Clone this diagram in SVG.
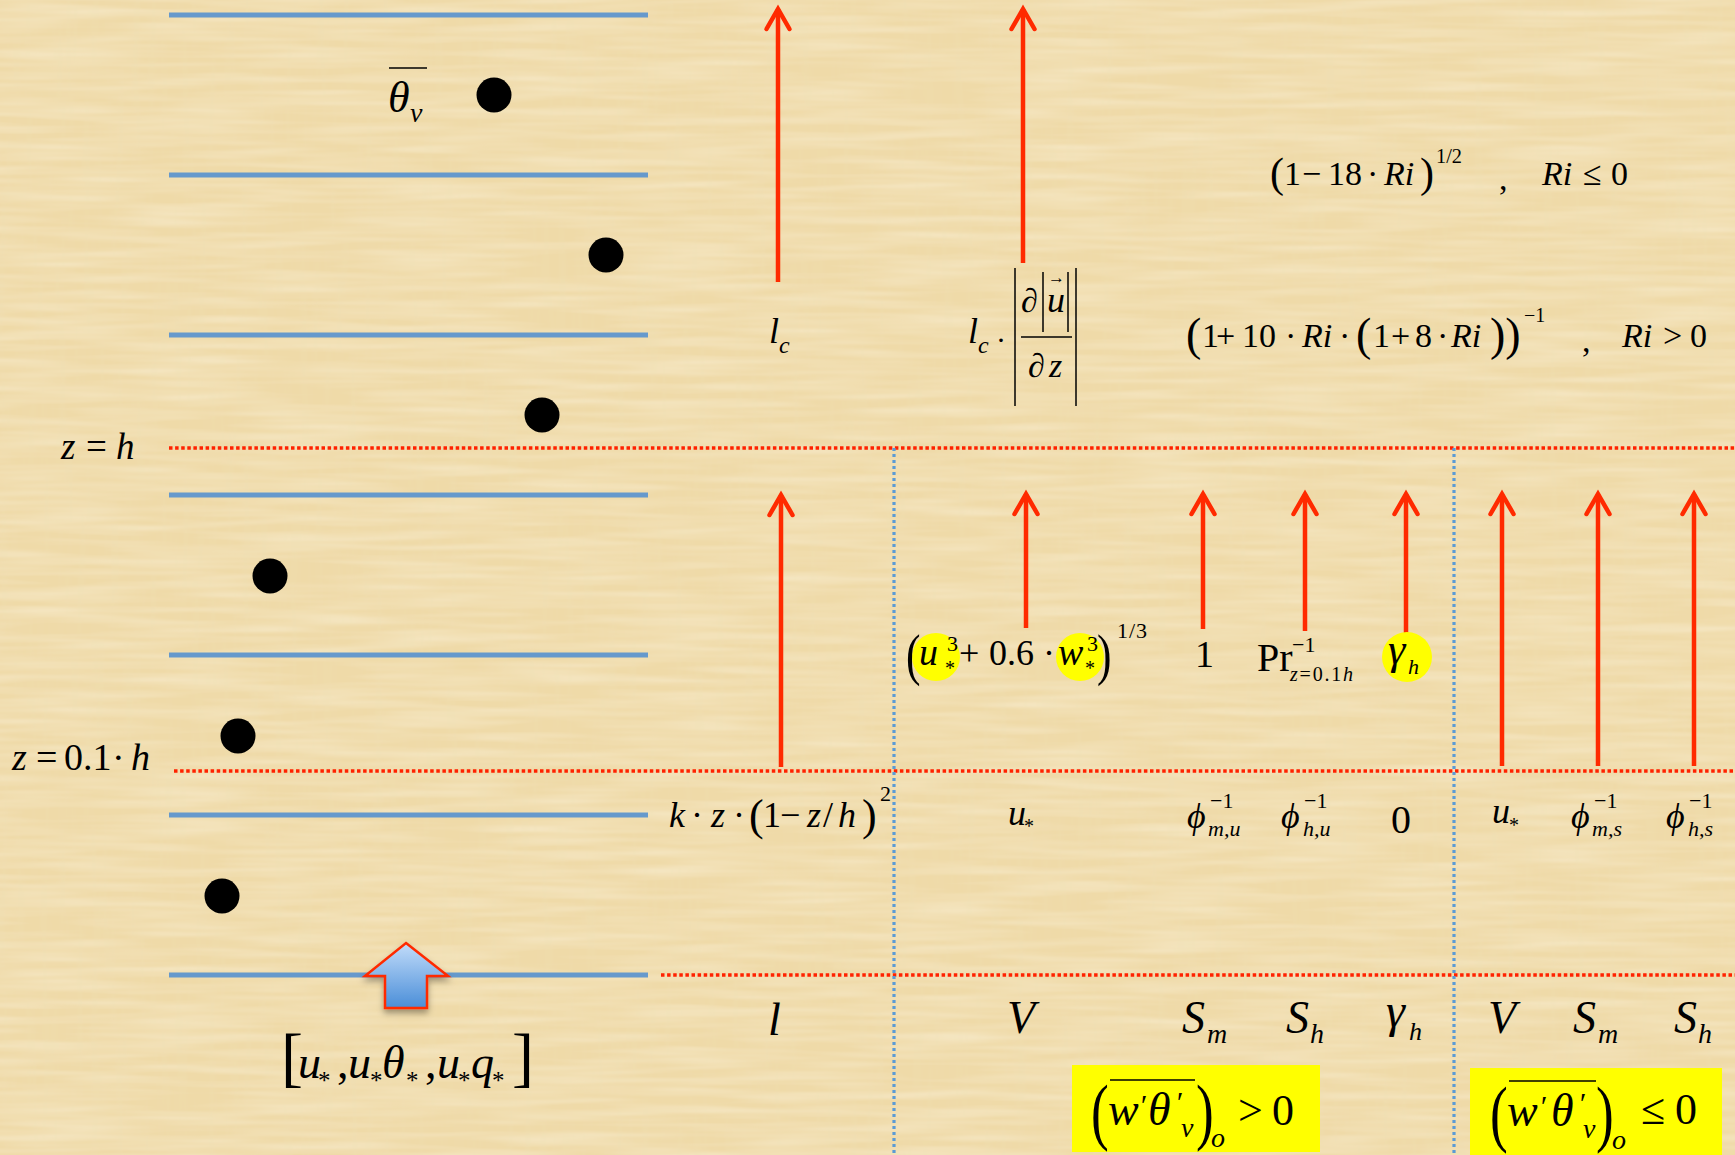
<svg xmlns="http://www.w3.org/2000/svg" width="1735" height="1155" viewBox="0 0 1735 1155">
<defs>
<style>
.t{font-family:"Liberation Serif","Times New Roman",serif;fill:#000}
.i{font-style:italic}
.layer{stroke:#6699cc;stroke-width:5}
.rdot{stroke:#ff2200;stroke-width:3.5;stroke-dasharray:3.5 2.6;fill:none}
.bdot{stroke:#5b9bd5;stroke-width:3.2;stroke-dasharray:3 3;fill:none}
.arr{stroke:#ff2a00;stroke-width:4.5;fill:none;marker-end:url(#head)}
.dot{fill:#000}
.hl{fill:#ffff00}
.ln{stroke:#000;stroke-width:1.5}
</style>
<marker id="head" markerUnits="userSpaceOnUse" markerWidth="40" markerHeight="40" refX="0" refY="0" viewBox="-30 -20 40 40" orient="auto" overflow="visible">
<path d="M-20,-11.5 L0,0 L-20,11.5" fill="none" stroke="#ff2a00" stroke-width="4.5" stroke-linecap="round" stroke-linejoin="miter"/>
</marker>
<linearGradient id="blk" x1="0" y1="0" x2="0" y2="1">
<stop offset="0" stop-color="#c2dcfa"/>
<stop offset="1" stop-color="#4a8ed8"/>
</linearGradient>
<filter id="streakH" x="0" y="0" width="100%" height="100%">
<feTurbulence type="fractalNoise" baseFrequency="0.008 0.12" numOctaves="2" seed="3"/>
<feColorMatrix type="matrix" values="0 0 0 0 1  0 0 0 0 0.96  0 0 0 0 0.86  0.6 0 0 0 -0.2"/>
</filter>
<filter id="streakV" x="0" y="0" width="100%" height="100%">
<feTurbulence type="fractalNoise" baseFrequency="0.12 0.008" numOctaves="2" seed="7"/>
<feColorMatrix type="matrix" values="0 0 0 0 0.85  0 0 0 0 0.74  0 0 0 0 0.46  0.5 0 0 0 -0.2"/>
</filter>
<filter id="sh" x="-30%" y="-30%" width="160%" height="160%">
<feDropShadow dx="0" dy="4" stdDeviation="3" flood-color="#000" flood-opacity="0.35"/>
</filter>
</defs>

<g id="background">
<rect width="1735" height="1155" fill="#efdaa8"/>
<rect width="1735" height="1155" filter="url(#streakH)"/>
<rect width="1735" height="1155" filter="url(#streakV)"/>
</g>

<g id="layers">
<line class="layer" x1="169" y1="15" x2="648" y2="15"/>
<line class="layer" x1="169" y1="175" x2="648" y2="175"/>
<line class="layer" x1="169" y1="335" x2="648" y2="335"/>
<line class="layer" x1="169" y1="495" x2="648" y2="495"/>
<line class="layer" x1="169" y1="655" x2="648" y2="655"/>
<line class="layer" x1="169" y1="815" x2="648" y2="815"/>
<line class="layer" x1="169" y1="975" x2="648" y2="975"/>
</g>

<g id="profile-points">
<circle class="dot" cx="494" cy="95" r="17.5"/>
<circle class="dot" cx="606" cy="255" r="17.5"/>
<circle class="dot" cx="542" cy="415" r="17.5"/>
<circle class="dot" cx="270" cy="576" r="17.5"/>
<circle class="dot" cx="238" cy="736" r="17.5"/>
<circle class="dot" cx="222" cy="896" r="17.5"/>
</g>

<g id="grid-lines">
<line class="rdot" x1="169" y1="448" x2="1735" y2="448"/>
<line class="rdot" x1="174" y1="771" x2="1735" y2="771"/>
<line class="rdot" x1="661" y1="975" x2="1735" y2="975"/>
<line class="bdot" x1="894" y1="448" x2="894" y2="1155"/>
<line class="bdot" x1="1454" y1="448" x2="1454" y2="1155"/>
</g>

<g id="label-theta">
<line class="ln" x1="389" y1="68" x2="427" y2="68" stroke-width="2"/>
<text class="t i" x="388" y="112" font-size="44">θ</text>
<text class="t i" x="410" y="122" font-size="28">v</text>
</g>

<g id="label-heights">
<text class="t" x="61" y="459" font-size="37"><tspan class="i">z</tspan><tspan x="86">=</tspan><tspan class="i" x="116">h</tspan></text>
<text class="t" x="12" y="770" font-size="38"><tspan class="i">z</tspan><tspan x="36">=</tspan><tspan x="64">0.1</tspan><tspan x="112">·</tspan><tspan class="i" x="131">h</tspan></text>
</g>

<g id="surface-flux">
<path d="M406,943 L448,976 L427,976 L427,1008 L385,1008 L385,976 L365,976 Z" fill="url(#blk)" stroke="#ff2a00" stroke-width="2.5" filter="url(#sh)"/>
<text class="t" font-size="46" y="1078">
<tspan x="281" font-size="66" y="1079">[</tspan>
<tspan class="i" x="298" y="1078">u</tspan>
<tspan x="318" y="1089" font-size="25">*</tspan>
<tspan x="337" y="1078">,</tspan>
<tspan class="i" x="348" y="1078">u</tspan>
<tspan x="370" y="1089" font-size="25">*</tspan>
<tspan class="i" x="382" y="1078">θ</tspan>
<tspan x="406" y="1089" font-size="25">*</tspan>
<tspan x="425" y="1078">,</tspan>
<tspan class="i" x="437" y="1078">u</tspan>
<tspan x="458" y="1089" font-size="25">*</tspan>
<tspan class="i" x="471" y="1078">q</tspan>
<tspan x="492" y="1089" font-size="25">*</tspan>
<tspan x="512" font-size="66" y="1079">]</tspan>
</text>
</g>

<g id="connectors">
<line class="arr" x1="778" y1="282" x2="778" y2="9"/>
<line class="arr" x1="1023" y1="263" x2="1023" y2="9"/>
<line class="arr" x1="781" y1="767" x2="781" y2="495"/>
<line class="arr" x1="1026" y1="628" x2="1026" y2="494"/>
<line class="arr" x1="1203" y1="629" x2="1203" y2="494"/>
<line class="arr" x1="1305" y1="631" x2="1305" y2="494"/>
<line class="arr" x1="1406" y1="633" x2="1406" y2="494"/>
<line class="arr" x1="1502" y1="766" x2="1502" y2="494"/>
<line class="arr" x1="1598" y1="766" x2="1598" y2="494"/>
<line class="arr" x1="1694" y1="766" x2="1694" y2="494"/>
</g>

<g id="node-lc">
<text class="t i" x="769" y="343" font-size="36">l</text>
<text class="t i" x="779" y="353" font-size="24">c</text>
</g>

<g id="node-lc-shear">
<text class="t i" x="968" y="343" font-size="36">l</text>
<text class="t i" x="978" y="353" font-size="24">c</text>
<text class="t" x="996" y="350" font-size="30">·</text>
<line class="ln" x1="1015" y1="268" x2="1015" y2="406"/>
<line class="ln" x1="1076" y1="268" x2="1076" y2="406"/>
<line class="ln" x1="1043" y1="272" x2="1043" y2="332" stroke-width="1.3"/>
<line class="ln" x1="1068" y1="272" x2="1068" y2="332" stroke-width="1.3"/>
<line class="ln" x1="1021" y1="337" x2="1072" y2="337"/>
<text class="t i" x="1021" y="312" font-size="34">∂</text>
<text class="t i" x="1047" y="312" font-size="36">u</text>
<text class="t" x="1048" y="283" font-size="17">→</text>
<text class="t i" x="1028" y="377" font-size="34">∂<tspan x="1049">z</tspan></text>
</g>

<g id="node-stability">
<text class="t" y="185" font-size="34">
<tspan x="1270" font-size="42" y="187">(</tspan><tspan x="1284" y="185">1</tspan><tspan x="1302">−</tspan><tspan x="1328">18</tspan><tspan x="1367">·</tspan><tspan class="i" x="1384">Ri</tspan><tspan x="1420" font-size="42" y="187">)</tspan>
</text>
<text class="t" x="1436" y="163" font-size="20" textLength="26" lengthAdjust="spacingAndGlyphs">1/2</text>
<text class="t" x="1499" y="190" font-size="34">,</text>
<text class="t" y="185" font-size="34"><tspan class="i" x="1542">Ri</tspan><tspan x="1583">≤</tspan><tspan x="1611">0</tspan></text>
<text class="t" y="347" font-size="34">
<tspan x="1186" font-size="46" y="350">(</tspan><tspan x="1202" y="347">1</tspan><tspan x="1216">+</tspan><tspan x="1242">10</tspan><tspan x="1285">·</tspan><tspan class="i" x="1302">Ri</tspan><tspan x="1339">·</tspan><tspan x="1356" font-size="46" y="350">(</tspan><tspan x="1373" y="347">1</tspan><tspan x="1391">+</tspan><tspan x="1415">8</tspan><tspan x="1437">·</tspan><tspan class="i" x="1451">Ri</tspan><tspan x="1490" font-size="46" y="350">))</tspan>
</text>
<text class="t" x="1524" y="322" font-size="20">−1</text>
<text class="t" x="1582" y="352" font-size="34">,</text>
<text class="t" y="347" font-size="34"><tspan class="i" x="1622">Ri</tspan><tspan x="1663">&gt;</tspan><tspan x="1690">0</tspan></text>
</g>

<g id="node-l-surface">
<text class="t" y="827" font-size="36"><tspan class="i" x="669">k</tspan><tspan x="691">·</tspan><tspan class="i" x="711">z</tspan><tspan x="733">·</tspan><tspan x="749" font-size="44" y="830">(</tspan><tspan x="763" y="827">1</tspan><tspan x="780">−</tspan><tspan class="i" x="807">z</tspan><tspan x="823">/</tspan><tspan class="i" x="838">h</tspan><tspan x="862" font-size="44" y="830">)</tspan></text>
<text class="t" x="880" y="801" font-size="22">2</text>
</g>

<g id="node-V-mixed">
<circle class="hl" cx="936" cy="657" r="24"/>
<circle class="hl" cx="1080" cy="657" r="24"/>
<text class="t" transform="translate(906,674) scale(0.75,1)" font-size="58">(</text>
<text class="t i" x="919" y="665" font-size="38">u</text>
<text class="t" x="947" y="651" font-size="22">3</text>
<text class="t" x="945" y="675" font-size="20">*</text>
<text class="t" x="959" y="665" font-size="36">+</text>
<text class="t" x="989" y="665" font-size="36">0.6</text>
<text class="t" x="1043" y="665" font-size="36">·</text>
<text class="t i" x="1058" y="665" font-size="38">w</text>
<text class="t" x="1087" y="651" font-size="22">3</text>
<text class="t" x="1085" y="675" font-size="20">*</text>
<text class="t" transform="translate(1097,674) scale(0.75,1)" font-size="58">)</text>
<text class="t" x="1117" y="638" font-size="22" textLength="30">1/3</text>
</g>

<g id="node-Sm-mixed"><text class="t" x="1195" y="667" font-size="38">1</text></g>

<g id="node-Sh-mixed">
<text class="t" x="1257" y="671" font-size="40">Pr</text>
<text class="t" x="1292" y="652" font-size="22">−1</text>
<text class="t" x="1290" y="681" font-size="20" textLength="63"><tspan class="i">z</tspan>=0.1<tspan class="i">h</tspan></text>
</g>

<g id="node-gamma-mixed">
<circle class="hl" cx="1407" cy="657" r="25"/>
<text class="t i" x="1388" y="664" font-size="44">γ</text>
<text class="t i" x="1408" y="674" font-size="22">h</text>
</g>

<g id="node-surface-values">
<text class="t i" x="1008" y="825" font-size="36">u</text>
<text class="t" x="1024" y="833" font-size="20">*</text>
<text class="t i" x="1187" y="828" font-size="36">ϕ</text>
<text class="t" x="1210" y="808" font-size="22">−1</text>
<text class="t i" x="1208" y="836" font-size="22">m,u</text>
<text class="t i" x="1281" y="828" font-size="36">ϕ</text>
<text class="t" x="1304" y="808" font-size="22">−1</text>
<text class="t i" x="1303" y="836" font-size="22">h,u</text>
<text class="t" x="1391" y="833" font-size="40">0</text>
<text class="t i" x="1492" y="823" font-size="36">u</text>
<text class="t" x="1509" y="832" font-size="20">*</text>
<text class="t i" x="1571" y="828" font-size="36">ϕ</text>
<text class="t" x="1594" y="808" font-size="22">−1</text>
<text class="t i" x="1592" y="836" font-size="22">m,s</text>
<text class="t i" x="1666" y="828" font-size="36">ϕ</text>
<text class="t" x="1689" y="808" font-size="22">−1</text>
<text class="t i" x="1688" y="836" font-size="22">h,s</text>
</g>

<g id="node-variable-names">
<text class="t i" x="768" y="1035" font-size="46">l</text>
<text class="t i" x="1007" y="1033" font-size="46">V</text>
<text class="t i" x="1182" y="1033" font-size="46">S</text>
<text class="t i" x="1207" y="1043" font-size="28">m</text>
<text class="t i" x="1286" y="1033" font-size="46">S</text>
<text class="t i" x="1310" y="1043" font-size="28">h</text>
<text class="t i" x="1386" y="1027" font-size="48">γ</text>
<text class="t i" x="1409" y="1040" font-size="26">h</text>
<text class="t i" x="1488" y="1033" font-size="46">V</text>
<text class="t i" x="1573" y="1033" font-size="46">S</text>
<text class="t i" x="1598" y="1043" font-size="28">m</text>
<text class="t i" x="1674" y="1033" font-size="46">S</text>
<text class="t i" x="1698" y="1043" font-size="28">h</text>
</g>

<g id="node-unstable">
<rect class="hl" x="1072" y="1065" width="248" height="87"/>
<text class="t" transform="translate(1091,1136) scale(0.72,1)" font-size="74">(</text>
<line class="ln" x1="1110" y1="1080" x2="1195" y2="1080" stroke-width="2"/>
<text class="t i" x="1108" y="1125" font-size="46">w</text>
<text class="t i" x="1139" y="1115" font-size="30">′</text>
<text class="t i" x="1148" y="1125" font-size="46">θ</text>
<text class="t i" x="1175" y="1112" font-size="30">′</text>
<text class="t i" x="1181" y="1137" font-size="28">v</text>
<text class="t" transform="translate(1196,1136) scale(0.72,1)" font-size="74">)</text>
<text class="t i" x="1211" y="1147" font-size="28">o</text>
<text class="t" x="1238" y="1125" font-size="44">&gt;</text>
<text class="t" x="1272" y="1125" font-size="44">0</text>
</g>

<g id="node-stable">
<rect class="hl" x="1470" y="1068" width="252" height="87"/>
<text class="t" transform="translate(1490,1138) scale(0.72,1)" font-size="74">(</text>
<line class="ln" x1="1509" y1="1081" x2="1596" y2="1081" stroke-width="2"/>
<text class="t i" x="1507" y="1126" font-size="46">w</text>
<text class="t i" x="1539" y="1116" font-size="30">′</text>
<text class="t i" x="1551" y="1126" font-size="46">θ</text>
<text class="t i" x="1578" y="1113" font-size="30">′</text>
<text class="t i" x="1583" y="1138" font-size="28">v</text>
<text class="t" transform="translate(1596,1138) scale(0.72,1)" font-size="74">)</text>
<text class="t i" x="1612" y="1149" font-size="28">o</text>
<text class="t" x="1641" y="1124" font-size="44">≤</text>
<text class="t" x="1675" y="1124" font-size="44">0</text>
</g>
</svg>
